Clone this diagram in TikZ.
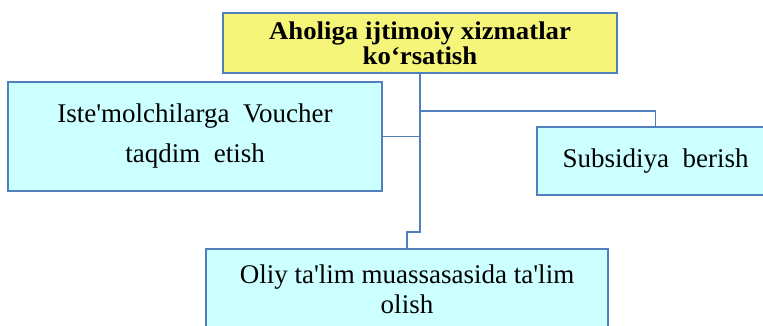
\documentclass[tikz,border=0pt]{standalone}
\usepackage{fontspec}
\setmainfont{Liberation Serif}
\definecolor{lineblue}{HTML}{5080BC}
\definecolor{boxyellow}{HTML}{F5F57A}
\definecolor{boxcyan}{HTML}{CCFFFF}
\begin{document}
\begin{tikzpicture}[x=1pt,y=-1pt,
  box/.style={draw=lineblue, line width=1.8pt, inner sep=0pt, align=center, text=black},
  conn/.style={draw=lineblue, line width=1.8pt}]
\useasboundingbox (0,0) rectangle (763,325);
\clip (0,0) rectangle (763,325);
\node[box, fill=boxyellow, minimum width=394, minimum height=60,
  font=\fontsize{25.5}{25}\selectfont\bfseries] (top) at (420,43)
  {\scalebox{1.05}[1]{Aholiga ijtimoiy xizmatlar}\\\scalebox{1.05}[1]{ko‘rsatish}};
\node[box, fill=boxcyan, minimum width=374, minimum height=109,
  font=\fontsize{27}{40}\selectfont] (left) at (195,136.5)
  {Iste\textquotesingle molchilarga\ \ Voucher\\taqdim\ \ etish};
\node[box, fill=boxcyan, minimum width=237, minimum height=68,
  font=\fontsize{27}{30}\selectfont] (right) at (655.5,161)
  {Subsidiya\ \ berish};
\node[box, fill=boxcyan, minimum width=402, minimum height=80,
  font=\fontsize{27}{30}\selectfont] (bot) at (407,289)
  {Oliy ta\textquotesingle lim muassasasida ta\textquotesingle lim\\olish};
\coordinate (j1) at (420,232);
\coordinate (j2) at (407,232);
\coordinate (jr) at (420,111);
\draw[conn] (top.south) -- (j1) -- (j2) -- (bot.north);
\draw[conn] (left.east) -- (left.east -| top.south);
\draw[conn] (jr) -| (right.north);
\end{tikzpicture}
\end{document}
